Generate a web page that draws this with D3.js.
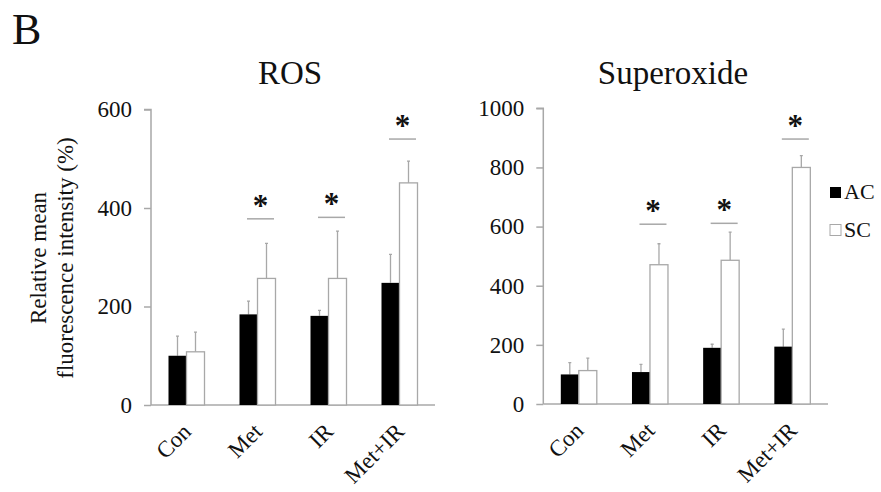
<!DOCTYPE html>
<html>
<head>
<meta charset="utf-8">
<script src="https://cdn.jsdelivr.net/npm/d3@7"></script>
<style>
  body { margin: 0; background: #fff; }
  svg text { font-family: "Liberation Serif", "DejaVu Serif", "Times New Roman", Times, serif; fill: #111; }
</style>
</head>
<body>
<div class="div-chart"></div>
<script>
// data
const groups = ["Con", "Met", "IR", "Met+IR"];
const series = ["AC", "SC"];

const rosAC = [100, 184, 181, 248];
const rosSC = [108, 257, 257, 451];
const rosAcErr = [40, 27, 11, 58];
const rosScErr = [40, 71, 96, 44];
const rosSig = [null, 378, 381, 540];
const rosTicks = [0, 200, 400, 600];

const supAC = [100, 108, 190, 194];
const supSC = [113, 471, 486, 800];
const supAcErr = [40, 26, 12, 59];
const supScErr = [42, 71, 95, 40];
const supSig = [null, 608, 611, 896];
const supTicks = [0, 200, 400, 600, 800, 1000];

const width = 881,
  height = 492;
const serif = "Liberation Serif, DejaVu Serif, serif";

const svg = d3
  .select(".div-chart")
  .append("svg")
  .attr("width", width)
  .attr("height", height)
  .attr("viewBox", `0 0 ${width} ${height}`)
  .attr("font-family", serif);

const axisColor = "#a8a8a8";

svg.append("text").attr("x", 12).attr("y", 44).attr("font-size", 44).text("B");

function drawPanel(opt) {
  const g = svg.append("g");
  const y = d3.scaleLinear().domain([0, opt.max]).range([opt.y0, opt.y1]);
  const x = d3.scaleBand().domain(groups).range([opt.x0, opt.x1]);
  const xs = d3.scaleBand().domain(series).range([17.5, 53.5]);

  // y axis
  const yAxis = d3.axisLeft(y).tickValues(opt.ticks).tickFormat(d3.format("d"))
    .tickSize(7).tickPadding(12);
  const ya = g.append("g").attr("transform", `translate(${opt.x0},0)`).call(yAxis)
    .attr("font-family", serif);
  ya.select(".domain").attr("stroke", axisColor).attr("stroke-width", 1.5)
    .attr("d", `M0,${opt.y0}V${opt.y1}H-7`);
  ya.selectAll(".tick line").attr("stroke", axisColor).attr("stroke-width", 1.5);
  ya.selectAll(".tick text").attr("font-size", 23).attr("fill", "#111");

  // x axis
  g.append("line")
    .attr("x1", opt.x0).attr("x2", opt.x1)
    .attr("y1", opt.y0).attr("y2", opt.y0)
    .attr("stroke", axisColor).attr("stroke-width", 1.5);

  const rows = groups.map((grp, i) => ({
    grp, i,
    vals: [
      { s: "AC", v: opt.ac[i], e: opt.acErr[i] },
      { s: "SC", v: opt.sc[i], e: opt.scErr[i] },
    ],
  }));

  const gg = g.selectAll(".grp").data(rows).join("g")
    .attr("transform", (d) => `translate(${x(d.grp)},0)`);

  // error bars (drawn behind the bars)
  gg.selectAll(".err").data((d) => d.vals).join("path")
    .attr("fill", "none").attr("stroke", axisColor).attr("stroke-width", 1.3)
    .attr("d", (d) => {
      const cx = xs(d.s) + xs.bandwidth() / 2;
      return `M${cx},${y(d.v)}V${y(d.v + d.e)}M${cx - 1.5},${y(d.v + d.e)}H${cx + 1.5}`;
    });

  gg.selectAll(".bar").data((d) => d.vals).join("rect")
    .attr("x", (d) => xs(d.s))
    .attr("width", xs.bandwidth())
    .attr("y", (d) => y(d.v))
    .attr("height", (d) => opt.y0 - y(d.v))
    .attr("fill", (d) => (d.s === "AC" ? "#000" : "#fff"))
    .attr("stroke", (d) => (d.s === "AC" ? "none" : axisColor))
    .attr("stroke-width", 1.3);

  // significance marks
  const sig = rows.filter((d) => opt.sig[d.i] != null);
  const sg = g.selectAll(".sig").data(sig).join("g")
    .attr("transform", (d) => `translate(${x(d.grp) + 38.5},${y(opt.sig[d.i])})`);
  sg.append("line").attr("x1", -13.5).attr("x2", 13.5)
    .attr("stroke", axisColor).attr("stroke-width", 1.5);
  sg.append("text").attr("text-anchor", "middle").attr("y", -3)
    .attr("font-size", 31).attr("font-weight", "bold").text("*");

  // category labels
  g.selectAll(".xl").data(groups).join("text")
    .attr("text-anchor", "end")
    .attr("font-size", 23)
    .attr("transform", (d) => `translate(${x(d) + x.bandwidth() / 2 + 6},${opt.y0 + 28}) rotate(-45)`)
    .text((d) => d);

  g.append("text").attr("x", opt.titleX).attr("y", 84)
    .attr("text-anchor", "middle").attr("font-size", 33).text(opt.title);
}

drawPanel({
  title: "ROS", titleX: 290,
  max: 600, ticks: rosTicks,
  x0: 151, x1: 435, y0: 405, y1: 109.5,
  ac: rosAC, sc: rosSC, acErr: rosAcErr, scErr: rosScErr, sig: rosSig,
});

drawPanel({
  title: "Superoxide", titleX: 673,
  max: 1000, ticks: supTicks,
  x0: 543.3, x1: 828, y0: 404, y1: 108.3,
  ac: supAC, sc: supSC, acErr: supAcErr, scErr: supScErr, sig: supSig,
});

// y axis title
const yl = svg.append("text")
  .attr("transform", "translate(46,258) rotate(-90)")
  .attr("text-anchor", "middle")
  .attr("font-size", 23);
yl.append("tspan").attr("x", 0).attr("dy", 0).text("Relative mean");
yl.append("tspan").attr("x", 0).attr("dy", 27).text("fluorescence intensity (%)");

// legend
const legend = svg.append("g").attr("transform", "translate(830,187)");
const li = legend.selectAll("g").data(series).join("g")
  .attr("transform", (d, i) => `translate(0,${i * 37.5})`);
li.append("rect").attr("width", 11).attr("height", 11)
  .attr("fill", (d) => (d === "AC" ? "#000" : "#fff"))
  .attr("stroke", (d) => (d === "AC" ? "none" : axisColor))
  .attr("stroke-width", 1);
li.append("text").attr("x", 14).attr("y", 12).attr("font-size", 22).text((d) => d);
</script>
</body>
</html>
